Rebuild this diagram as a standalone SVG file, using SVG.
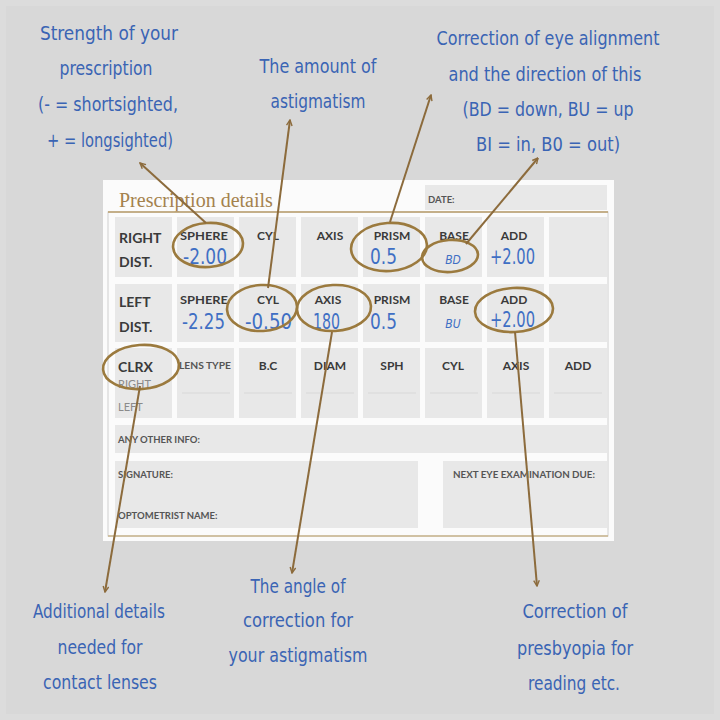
<svg xmlns="http://www.w3.org/2000/svg" width="720" height="720" viewBox="0 0 720 720">
<style>
.cell{fill:#e8e8e8}
.hd{font-family:Lato,"Liberation Sans",sans-serif;font-weight:bold;fill:#3a3a3a;font-size:12px}
.hdl{font-family:Lato,"Liberation Sans",sans-serif;font-weight:bold;fill:#3a3a3a;font-size:14px}
.sm{font-family:Lato,"Liberation Sans",sans-serif;font-weight:bold;fill:#555;font-size:9.5px}
.faint{font-family:Lato,"Liberation Sans",sans-serif;fill:#8a8a8a;font-size:11px}
.val{font-family:"Liberation Sans Narrow","DejaVu Sans Condensed",sans-serif;fill:#3f6fc4;font-size:21px}
.valsm{font-family:"Liberation Sans Narrow","DejaVu Sans Condensed",sans-serif;fill:#3f6fc4;font-size:12px;font-style:italic}
.ann{font-family:"Liberation Sans Narrow","DejaVu Sans Condensed",sans-serif;fill:#3a64b4;font-size:19px;text-anchor:middle}
.conn{stroke:#8c6b3c;stroke-width:2;fill:none}
.ring{stroke:#9b7a3e;stroke-width:2.6;fill:none}
.line{stroke:#d8d8d8;stroke-width:1}
</style>
<defs>
<marker id="ah" viewBox="0 0 10 10" refX="9" refY="5" markerWidth="7" markerHeight="7" orient="auto" markerUnits="userSpaceOnUse">
<path d="M1,1 L9,5 L1,9" fill="none" stroke="#8c6b3c" stroke-width="2"/>
</marker>
</defs>
<rect x="0" y="0" width="720" height="720" fill="#dcdcdc"/>
<rect x="6" y="6" width="708" height="708" fill="#d8d8d8"/>

<g id="card">
<rect x="103" y="180" width="511" height="361" fill="#fbfbfb"/>
<text x="119" y="207" font-family="'Liberation Serif',serif" font-size="20" fill="#a4824e">Prescription details</text>
<rect x="425" y="185" width="182" height="25" class="cell"/>
<text x="428" y="203" class="sm" font-size="9">DATE:</text>
<rect x="108" y="212" width="500" height="324" fill="none" stroke="#d0d0d0" stroke-width="1"/>
<line x1="108" y1="212" x2="608" y2="212" stroke="#b89c6a" stroke-width="1.5"/>
<line x1="108" y1="536" x2="608" y2="536" stroke="#c8b48c" stroke-width="1.5"/>

<g id="row1">
<rect x="115" y="217" width="57" height="60" class="cell"/>
<rect x="177" y="217" width="57" height="60" class="cell"/>
<rect x="239" y="217" width="57" height="60" class="cell"/>
<rect x="301" y="217" width="57" height="60" class="cell"/>
<rect x="363" y="217" width="57" height="60" class="cell"/>
<rect x="425" y="217" width="57" height="60" class="cell"/>
<rect x="487" y="217" width="57" height="60" class="cell"/>
<rect x="549" y="217" width="58" height="60" class="cell"/>
<text x="119" y="243" class="hdl">RIGHT</text>
<text x="119" y="267" class="hdl">DIST.</text>
<text x="180" y="240" class="hd" textLength="48" lengthAdjust="spacingAndGlyphs">SPHERE</text>
<text x="268" y="240" class="hd" text-anchor="middle">CYL</text>
<text x="330" y="240" class="hd" text-anchor="middle">AXIS</text>
<text x="392" y="240" class="hd" text-anchor="middle">PRISM</text>
<text x="454" y="240" class="hd" text-anchor="middle">BASE</text>
<text x="514" y="240" class="hd" text-anchor="middle">ADD</text>
<text x="183" y="264" class="val" textLength="44" lengthAdjust="spacingAndGlyphs">-2.00</text>
<text x="370" y="264" class="val" textLength="27" lengthAdjust="spacingAndGlyphs">0.5</text>
<text x="453" y="264" class="valsm" text-anchor="middle">BD</text>
<text x="490" y="264" class="val" textLength="45" lengthAdjust="spacingAndGlyphs">+2.00</text>
</g>

<g id="row2">
<rect x="115" y="284" width="57" height="58" class="cell"/>
<rect x="177" y="284" width="57" height="58" class="cell"/>
<rect x="239" y="284" width="57" height="58" class="cell"/>
<rect x="301" y="284" width="57" height="58" class="cell"/>
<rect x="363" y="284" width="57" height="58" class="cell"/>
<rect x="425" y="284" width="57" height="58" class="cell"/>
<rect x="487" y="284" width="57" height="58" class="cell"/>
<rect x="549" y="284" width="58" height="58" class="cell"/>
<text x="119" y="307" class="hdl">LEFT</text>
<text x="119" y="332" class="hdl">DIST.</text>
<text x="180" y="304" class="hd" textLength="48" lengthAdjust="spacingAndGlyphs">SPHERE</text>
<text x="268" y="304" class="hd" text-anchor="middle">CYL</text>
<text x="328" y="304" class="hd" text-anchor="middle">AXIS</text>
<text x="392" y="304" class="hd" text-anchor="middle">PRISM</text>
<text x="454" y="304" class="hd" text-anchor="middle">BASE</text>
<text x="514" y="304" class="hd" text-anchor="middle">ADD</text>
<text x="182" y="329" class="val" textLength="43" lengthAdjust="spacingAndGlyphs">-2.25</text>
<text x="245" y="329" class="val" textLength="47" lengthAdjust="spacingAndGlyphs">-0.50</text>
<text x="313" y="329" class="val" textLength="27" lengthAdjust="spacingAndGlyphs">180</text>
<text x="370" y="329" class="val" textLength="27" lengthAdjust="spacingAndGlyphs">0.5</text>
<text x="453" y="328" class="valsm" text-anchor="middle">BU</text>
<text x="490" y="327" class="val" textLength="45" lengthAdjust="spacingAndGlyphs">+2.00</text>
</g>

<g id="row3">
<rect x="115" y="348" width="57" height="70" class="cell"/>
<rect x="177" y="348" width="57" height="70" class="cell"/>
<rect x="239" y="348" width="57" height="70" class="cell"/>
<rect x="301" y="348" width="57" height="70" class="cell"/>
<rect x="363" y="348" width="57" height="70" class="cell"/>
<rect x="425" y="348" width="57" height="70" class="cell"/>
<rect x="487" y="348" width="57" height="70" class="cell"/>
<rect x="549" y="348" width="58" height="70" class="cell"/>
<line x1="182" y1="393" x2="230" y2="393" class="line"/>
<line x1="244" y1="393" x2="292" y2="393" class="line"/>
<line x1="306" y1="393" x2="354" y2="393" class="line"/>
<line x1="368" y1="393" x2="416" y2="393" class="line"/>
<line x1="430" y1="393" x2="478" y2="393" class="line"/>
<line x1="492" y1="393" x2="540" y2="393" class="line"/>
<line x1="554" y1="393" x2="602" y2="393" class="line"/>
<text x="118" y="372" class="hdl" font-size="15">CLRX</text>
<text x="118" y="388" class="faint">RIGHT</text>
<text x="118" y="411" class="faint">LEFT</text>
<text x="179" y="369" class="sm" font-size="10" textLength="52" lengthAdjust="spacingAndGlyphs">LENS TYPE</text>
<text x="268" y="370" class="hd" font-size="13" text-anchor="middle">B.C</text>
<text x="330" y="370" class="hd" font-size="13" text-anchor="middle">DIAM</text>
<text x="392" y="370" class="hd" font-size="13" text-anchor="middle">SPH</text>
<text x="453" y="370" class="hd" font-size="13" text-anchor="middle">CYL</text>
<text x="516" y="370" class="hd" font-size="13" text-anchor="middle">AXIS</text>
<text x="578" y="370" class="hd" font-size="13" text-anchor="middle">ADD</text>
</g>

<g id="row4">
<rect x="115" y="425" width="492" height="28" class="cell"/>
<text x="118" y="443" class="sm">ANY OTHER INFO:</text>
</g>

<g id="row5">
<rect x="115" y="461" width="303" height="67" class="cell"/>
<rect x="443" y="461" width="164" height="67" class="cell"/>
<text x="118" y="478" class="sm">SIGNATURE:</text>
<text x="118" y="519" class="sm" font-size="8.5">OPTOMETRIST NAME:</text>
<text x="453" y="478" class="sm" font-size="9" textLength="142" lengthAdjust="spacingAndGlyphs">NEXT EYE EXAMINATION DUE:</text>
</g>
</g>

<g id="rings">
<ellipse cx="208" cy="245" rx="35" ry="22" class="ring" transform="rotate(-4 208 245)"/>
<ellipse cx="262" cy="308" rx="35" ry="23" class="ring" transform="rotate(-3 262 308)"/>
<ellipse cx="334" cy="308" rx="37" ry="23" class="ring" transform="rotate(-3 334 308)"/>
<ellipse cx="389" cy="247" rx="38" ry="24" class="ring" transform="rotate(-4 389 247)"/>
<ellipse cx="450" cy="256" rx="28" ry="16" class="ring" transform="rotate(-4 450 256)"/>
<ellipse cx="514" cy="310" rx="39" ry="22" class="ring" transform="rotate(-3 514 310)"/>
<ellipse cx="141" cy="367" rx="38" ry="22" class="ring" transform="rotate(-4 141 367)"/>
</g>

<g id="connectors">
<line x1="206" y1="223" x2="140" y2="163" class="conn" marker-end="url(#ah)"/>
<line x1="268" y1="288" x2="290" y2="120" class="conn" marker-end="url(#ah)"/>
<line x1="390" y1="222" x2="431" y2="95" class="conn" marker-end="url(#ah)"/>
<line x1="466" y1="244" x2="538" y2="158" class="conn" marker-end="url(#ah)"/>
<line x1="140" y1="386" x2="105" y2="592" class="conn" marker-end="url(#ah)"/>
<line x1="332" y1="332" x2="292" y2="573" class="conn" marker-end="url(#ah)"/>
<line x1="515" y1="332" x2="537" y2="586" class="conn" marker-end="url(#ah)"/>
</g>

<g id="note-strength">
<text x="109" y="40" class="ann" textLength="138" lengthAdjust="spacingAndGlyphs">Strength of your</text>
<text x="106" y="75" class="ann" textLength="93" lengthAdjust="spacingAndGlyphs">prescription</text>
<text x="108" y="111" class="ann" textLength="140" lengthAdjust="spacingAndGlyphs">(- = shortsighted,</text>
<text x="110" y="147" class="ann" textLength="126" lengthAdjust="spacingAndGlyphs">+ = longsighted)</text>
</g>
<g id="note-astig">
<text x="318" y="73" class="ann" textLength="117" lengthAdjust="spacingAndGlyphs">The amount of</text>
<text x="318" y="108" class="ann" textLength="95" lengthAdjust="spacingAndGlyphs">astigmatism</text>
</g>
<g id="note-prism">
<text x="548" y="45" class="ann" textLength="223" lengthAdjust="spacingAndGlyphs">Correction of eye alignment</text>
<text x="545" y="81" class="ann" textLength="193" lengthAdjust="spacingAndGlyphs">and the direction of this</text>
<text x="548" y="116" class="ann" textLength="171" lengthAdjust="spacingAndGlyphs">(BD = down, BU = up</text>
<text x="548" y="151" class="ann" textLength="144" lengthAdjust="spacingAndGlyphs">BI = in, B0 = out)</text>
</g>
<g id="note-contact">
<text x="99" y="618" class="ann" textLength="132" lengthAdjust="spacingAndGlyphs">Additional details</text>
<text x="100" y="654" class="ann" textLength="85" lengthAdjust="spacingAndGlyphs">needed for</text>
<text x="100" y="689" class="ann" textLength="114" lengthAdjust="spacingAndGlyphs">contact lenses</text>
</g>
<g id="note-axis">
<text x="298" y="593" class="ann" textLength="95" lengthAdjust="spacingAndGlyphs">The angle of</text>
<text x="298" y="627" class="ann" textLength="110" lengthAdjust="spacingAndGlyphs">correction for</text>
<text x="298" y="662" class="ann" textLength="139" lengthAdjust="spacingAndGlyphs">your astigmatism</text>
</g>
<g id="note-add">
<text x="575" y="618" class="ann" textLength="105" lengthAdjust="spacingAndGlyphs">Correction of</text>
<text x="575" y="655" class="ann" textLength="116" lengthAdjust="spacingAndGlyphs">presbyopia for</text>
<text x="574" y="690" class="ann" textLength="92" lengthAdjust="spacingAndGlyphs">reading etc.</text>
</g>
</svg>
